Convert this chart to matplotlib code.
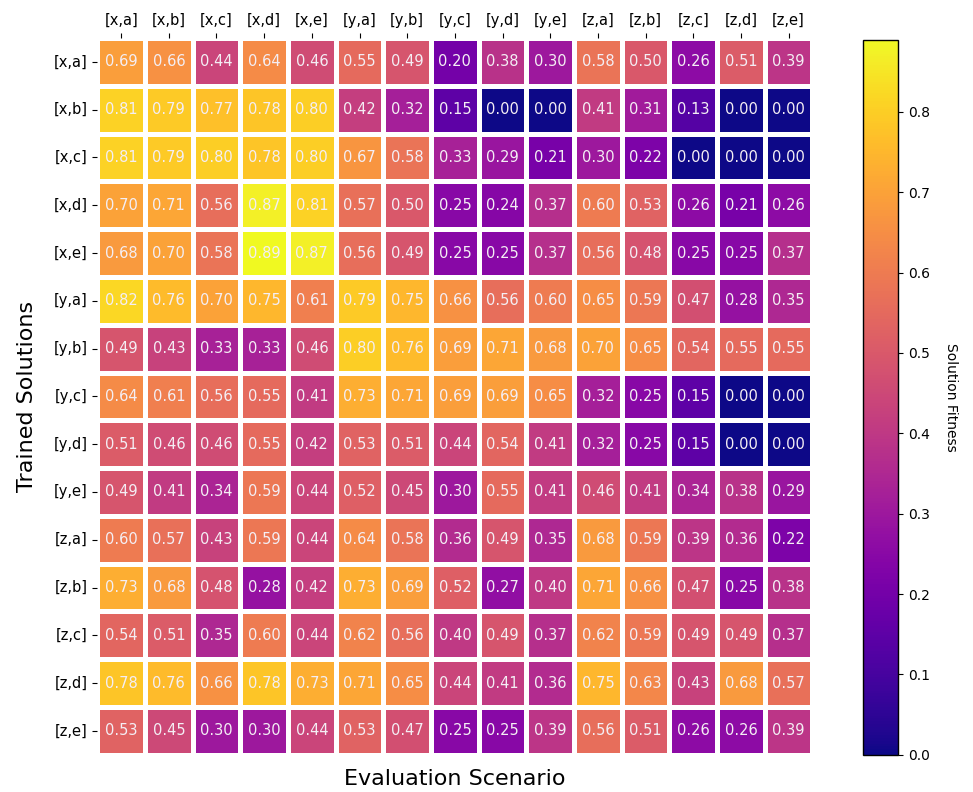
import numpy as np
import seaborn as sns
from matplotlib import pyplot as plt

labels = ['[x,a]', '[x,b]', '[x,c]', '[x,d]', '[x,e]',
          '[y,a]', '[y,b]', '[y,c]', '[y,d]', '[y,e]',
          '[z,a]', '[z,b]', '[z,c]', '[z,d]', '[z,e]']

# rows: trained solution, columns: evaluation scenario
fitness = [
    [0.69, 0.66, 0.44, 0.64, 0.46, 0.55, 0.49, 0.20, 0.38, 0.30, 0.58, 0.50, 0.26, 0.51, 0.39],
    [0.81, 0.79, 0.77, 0.78, 0.80, 0.42, 0.32, 0.15, 0.00, 0.00, 0.41, 0.31, 0.13, 0.00, 0.00],
    [0.81, 0.79, 0.80, 0.78, 0.80, 0.67, 0.58, 0.33, 0.29, 0.21, 0.30, 0.22, 0.00, 0.00, 0.00],
    [0.70, 0.71, 0.56, 0.87, 0.81, 0.57, 0.50, 0.25, 0.24, 0.37, 0.60, 0.53, 0.26, 0.21, 0.26],
    [0.68, 0.70, 0.58, 0.89, 0.87, 0.56, 0.49, 0.25, 0.25, 0.37, 0.56, 0.48, 0.25, 0.25, 0.37],
    [0.82, 0.76, 0.70, 0.75, 0.61, 0.79, 0.75, 0.66, 0.56, 0.60, 0.65, 0.59, 0.47, 0.28, 0.35],
    [0.49, 0.43, 0.33, 0.33, 0.46, 0.80, 0.76, 0.69, 0.71, 0.68, 0.70, 0.65, 0.54, 0.55, 0.55],
    [0.64, 0.61, 0.56, 0.55, 0.41, 0.73, 0.71, 0.69, 0.69, 0.65, 0.32, 0.25, 0.15, 0.00, 0.00],
    [0.51, 0.46, 0.46, 0.55, 0.42, 0.53, 0.51, 0.44, 0.54, 0.41, 0.32, 0.25, 0.15, 0.00, 0.00],
    [0.49, 0.41, 0.34, 0.59, 0.44, 0.52, 0.45, 0.30, 0.55, 0.41, 0.46, 0.41, 0.34, 0.38, 0.29],
    [0.60, 0.57, 0.43, 0.59, 0.44, 0.64, 0.58, 0.36, 0.49, 0.35, 0.68, 0.59, 0.39, 0.36, 0.22],
    [0.73, 0.68, 0.48, 0.28, 0.42, 0.73, 0.69, 0.52, 0.27, 0.40, 0.71, 0.66, 0.47, 0.25, 0.38],
    [0.54, 0.51, 0.35, 0.60, 0.44, 0.62, 0.56, 0.40, 0.49, 0.37, 0.62, 0.59, 0.49, 0.49, 0.37],
    [0.78, 0.76, 0.66, 0.78, 0.73, 0.71, 0.65, 0.44, 0.41, 0.36, 0.75, 0.63, 0.43, 0.68, 0.57],
    [0.53, 0.45, 0.30, 0.30, 0.44, 0.53, 0.47, 0.25, 0.25, 0.39, 0.56, 0.51, 0.26, 0.26, 0.39],
]

fig = plt.figure(figsize=(9.73, 7.92), dpi=100)
ax = fig.add_axes([0.100, 0.047, 0.735, 0.905])
cax = fig.add_axes([0.887, 0.047, 0.036, 0.903])

sns.heatmap(np.array(fitness), ax=ax, cbar_ax=cax, cmap='plasma', vmin=0,
            annot=True, fmt='.2f', annot_kws={'color': '#f4eef4', 'fontsize': 10.5},
            linewidths=2.5, linecolor='white',
            xticklabels=labels, yticklabels=labels)

ax.xaxis.tick_top()
ax.tick_params(axis='both', labelsize=10.5)
ax.set_yticklabels(labels, rotation=0)
ax.set_xticklabels(labels, rotation=0)
ax.set_xlabel('Evaluation Scenario', fontsize=16, labelpad=10)
ax.xaxis.set_label_position('bottom')
ax.set_ylabel('Trained Solutions', fontsize=16, labelpad=12)

cb = ax.collections[0].colorbar
cb.outline.set_visible(True)
cb.outline.set_edgecolor('black')
cb.outline.set_linewidth(1)
cb.ax.tick_params(labelsize=10)
cb.set_label('Solution Fitness', rotation=270, labelpad=20, fontsize=10)

plt.savefig('out.png', dpi=100)
